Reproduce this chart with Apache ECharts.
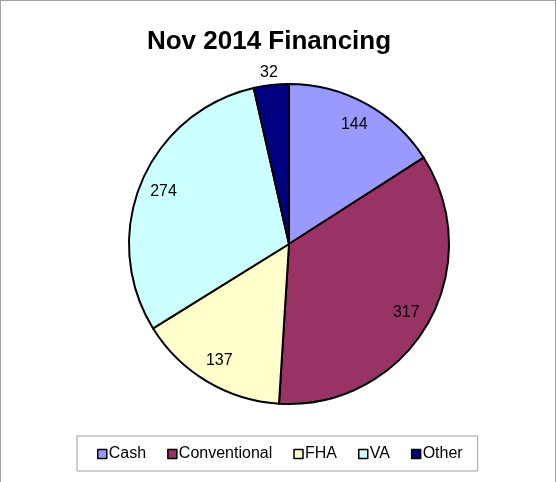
<!DOCTYPE html>
<html>
<head>
<meta charset="utf-8">
<script src="https://cdn.jsdelivr.net/npm/echarts@6/dist/echarts.min.js"></script>
<style>
  html, body { margin: 0; padding: 0; background: #fff; }
  #chart { position: absolute; left: 0; top: 0; width: 556px; height: 482px; }
  #frame { position: absolute; left: 0; top: 0; width: 556px; height: 482px; box-sizing: border-box;
           border: 1px solid #a0a0a0; border-bottom: none; pointer-events: none; }
</style>
</head>
<body>
<div id="chart"></div>
<div id="frame"></div>
<script>
// Financing types for November 2014 and the number of sales in each
const categories = ['Cash', 'Conventional', 'FHA', 'VA', 'Other'];
const values = [144, 317, 137, 274, 32];
const colors = ['#9999FF', '#993366', '#FFFFCC', '#CCFFFF', '#000080'];

const FONT = '"Liberation Sans", Arial, sans-serif';
const CENTER = [289, 244];
const RADIUS = 160;

// Slices; only the small "Other" slice carries its label outside the rim
const sliceData = categories.map((name, i) => {
  const item = { name: name, value: values[i], itemStyle: { color: colors[i] } };
  if (name === 'Other') {
    item.label = { show: true, position: 'outside', distanceToLabelLine: -8 };
    item.labelLine = { show: false, length: 12, length2: 0 };
  }
  return item;
});

// Transparent ring whose mid-radius places the in-slice value labels
const labelRingData = categories.map((name, i) => ({
  name: name,
  value: values[i],
  label: { show: name !== 'Other' }
}));

const valueLabel = { fontFamily: FONT, fontSize: 16, color: '#000', formatter: '{c}', padding: [4, 0, 0, 0] };

const chart = echarts.init(document.getElementById('chart'), null, { renderer: 'canvas' });
chart.setOption({
  animation: false,
  backgroundColor: '#ffffff',
  title: {
    text: 'Nov 2014 Financing',
    left: 264,
    textAlign: 'center',
    top: 24,
    textStyle: { fontFamily: FONT, fontSize: 26, fontWeight: 'bold', color: '#000' }
  },
  legend: {
    data: categories,
    left: 77,
    top: 436,
    orient: 'horizontal',
    padding: [10, 15, 9, 20],
    itemGap: 21,
    itemWidth: 9,
    itemHeight: 9,
    icon: 'rect',
    borderColor: '#a0a0a0',
    borderWidth: 1,
    selectedMode: false,
    itemStyle: { borderColor: '#000', borderWidth: 1.5 },
    textStyle: { fontFamily: FONT, fontSize: 16, color: '#000', padding: [0, 0, 0, -3] }
  },
  series: [
    {
      type: 'pie',
      name: 'Financing',
      center: CENTER,
      radius: RADIUS,
      startAngle: 90,
      clockwise: true,
      avoidLabelOverlap: false,
      silent: true,
      emphasis: { disabled: true },
      itemStyle: { borderColor: '#000', borderWidth: 2 },
      label: Object.assign({ show: false }, valueLabel),
      labelLine: { show: false },
      data: sliceData
    },
    {
      type: 'pie',
      name: 'Values',
      center: CENTER,
      radius: [106, RADIUS],
      startAngle: 90,
      clockwise: true,
      avoidLabelOverlap: false,
      silent: true,
      emphasis: { disabled: true },
      itemStyle: { color: 'rgba(0,0,0,0)', borderWidth: 0 },
      label: Object.assign({ show: true, position: 'inside' }, valueLabel),
      labelLine: { show: false },
      data: labelRingData
    }
  ]
});
</script>
</body>
</html>
